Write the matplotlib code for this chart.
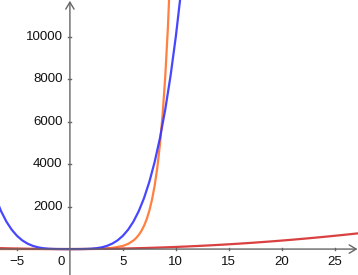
import matplotlib.pyplot as plt

# x^4-like curve (blue)
blue_x = [-7, -6.5, -6, -5.5, -5, -4.5, -4, -3.5, -3, -2.5, -2, -1.5, -1, -0.5, 0,
          0.5, 1, 1.5, 2, 2.5, 3, 3.5, 4, 4.5, 5, 5.5, 6, 6.5, 7, 7.5, 8, 8.5, 9,
          9.5, 10, 10.5]
blue_y = [2401, 1785, 1296, 915, 625, 410, 256, 150, 81, 39, 16, 5, 1, 0, 0,
          0, 1, 5, 16, 39, 81, 150, 256, 410, 625, 915, 1296, 1785, 2401, 3164, 4096, 5220, 6561,
          8145, 10000, 12155]

# exponential curve (orange)
orange_x = [-7, -5, -3, -1, 0, 1, 2, 3, 4, 5, 5.5, 6, 6.25, 6.5, 6.75, 7, 7.25, 7.5,
            7.75, 8, 8.25, 8.5, 8.75, 9, 9.25, 9.5]
orange_y = [0, 0, 0, 0, 1, 3, 7, 20, 55, 148, 245, 403, 518, 665, 854, 1097, 1408, 1808,
            2322, 2981, 3827, 4915, 6311, 8103, 10405, 13360]

# parabola (red)
red_x = [-7, -6, -5, -4, -3, -2, -1, 0, 1, 2, 3, 4, 5, 6, 7, 8, 9, 10, 11, 12, 13, 14,
         15, 16, 17, 18, 19, 20, 21, 22, 23, 24, 25, 26, 27, 28]
red_y = [49, 36, 25, 16, 9, 4, 1, 0, 1, 4, 9, 16, 25, 36, 49, 64, 81, 100, 121, 144, 169, 196,
         225, 256, 289, 324, 361, 400, 441, 484, 529, 576, 625, 676, 729, 784]

x_ticks = [-5, 5, 10, 15, 20, 25]
y_ticks = [2000, 4000, 6000, 8000, 10000]

plt.rcParams['font.family'] = ['Liberation Sans', 'DejaVu Sans']

fig = plt.figure(figsize=(3.58, 2.75), dpi=100)
ax = fig.add_axes([0, 0, 1, 1])
ax.set_xlim(-6.6, 27.2)
ax.set_ylim(-1220, 11720)

ax.plot(orange_x, orange_y, color='#ff8040', lw=1.6)
ax.plot(red_x, red_y, color='#d94040', lw=1.6)
ax.plot(blue_x, blue_y, color='#3333ff', lw=1.6, alpha=0.9)

for side in ['top', 'right', 'left', 'bottom']:
    ax.spines[side].set_visible(False)

axis_col = '#666666'
ax.annotate('', xy=(27.15, 0), xytext=(-6.6, 0),
            arrowprops=dict(arrowstyle='->,head_length=0.5,head_width=0.3', color=axis_col,
                            lw=1.0, shrinkA=0, shrinkB=0))
ax.annotate('', xy=(0, 11680), xytext=(0, -1220),
            arrowprops=dict(arrowstyle='->,head_length=0.5,head_width=0.3', color=axis_col,
                            lw=1.0, shrinkA=0, shrinkB=0))

ax.set_xticks([])
ax.set_yticks([])

for xv in x_ticks:
    ax.plot([xv, xv], [40, -40], color=axis_col, lw=1.0)
    ax.text(xv, -330, str(xv).replace('-', '\u2212'), ha='center', va='top', fontsize=9.5, color='#111111')
for yv in y_ticks:
    ax.plot([-0.15, 0.15], [yv, yv], color=axis_col, lw=1.0)
    ax.text(-0.7, yv, str(yv), ha='right', va='center', fontsize=9.5, color='#111111')

ax.text(-0.45, -330, '0', ha='right', va='top', fontsize=9.5, color='#111111')

fig.savefig('out.png', dpi=100)
